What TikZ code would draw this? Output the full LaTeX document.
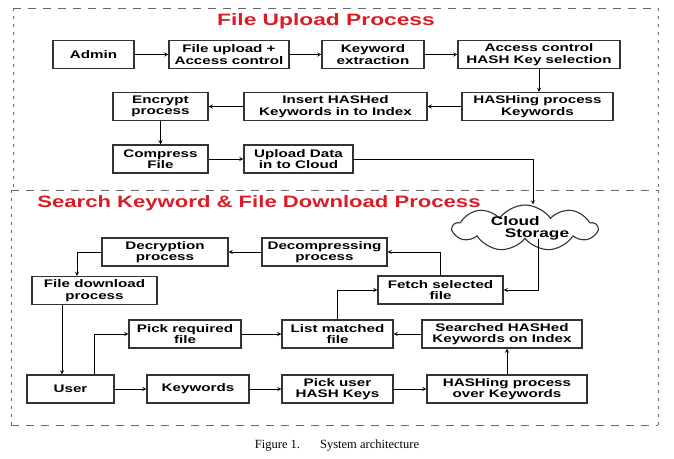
\documentclass[tikz,border=0pt]{standalone}
\usepackage{fontspec}
\setmainfont{Liberation Sans}
\newfontfamily\boxfont[FakeStretch=1.38]{Liberation Sans}
\newfontfamily\capfont{Liberation Serif}
\usetikzlibrary{shapes.symbols}
\definecolor{titlered}{RGB}{218,28,38}
\definecolor{framegray}{RGB}{105,105,105}

\tikzset{
  box/.style={draw=black!80, line width=1.1pt, fill=white, inner sep=1pt,
    minimum width=#1, minimum height=28, align=center,
    font=\boxfont\bfseries\fontsize{11}{11.5}\selectfont},
  heading/.style={text=titlered, font=\boxfont\bfseries\fontsize{16.5}{18}\selectfont},
  hframe/.style={framegray, line width=1pt, dash pattern=on 8pt off 7pt},
  vframe/.style={framegray, line width=1pt, dash pattern=on 3pt off 5pt},
}

\begin{document}
\begin{tikzpicture}[x=1pt,y=-1pt,>=stealth,line width=0.9pt]
\useasboundingbox (0,0) rectangle (674,458);

% Dashed frames
\draw[hframe] (13,8) -- (658,8);
\draw[hframe] (11,190) -- (658,190);
\draw[hframe] (11,425) -- (658,425);
\draw[vframe] (13,8) -- (13,190);
\draw[vframe] (658,8) -- (658,190);
\draw[vframe] (11,190) -- (11,425);
\draw[vframe] (658,190) -- (658,425);

% Headings
\node[heading] (uptitle) at (326,21) {File Upload Process};
\node[heading, xscale=0.97] (dltitle) at (259,203) {Search Keyword \& File Download Process};

% Upload boxes
\node[box=81]  (admin)   at (93.5,54.5)  {Admin};
\node[box=120] (upload)  at (229,54.5)   {File upload +\\Access control};
\node[box=102] (extract) at (373,54.5)   {Keyword\\extraction};
\node[box=162] (access)  at (539,54.5)   {Access control\\HASH Key selection};
\node[box=151] (hashkw)  at (537.5,106.5) {HASHing process\\Keywords};
\node[box=183] (insert)  at (335.5,106.5) {Insert HASHed\\Keywords in to Index};
\node[box=95]  (encrypt) at (160.5,106.5) {Encrypt\\process};
\node[box=95]  (compress) at (160.5,159) {Compress\\File};
\node[box=109] (updata)  at (298.5,159)  {Upload Data\\in to Cloud};

% Cloud
\node[cloud, draw=black!80, line width=1.1pt, fill=white, cloud puffs=9,
  cloud puff arc=110, aspect=3.4, minimum width=144, minimum height=46,
  inner sep=0pt,
  label={[align=left, font=\boxfont\bfseries\fontsize{12.5}{12}\selectfont,
    xshift=5pt]center:Cloud\\\hspace{14pt}Storage}] (cloud) at (525,228) {};

% Download boxes
\node[box=126] (decrypt) at (165,252)    {Decryption\\process};
\node[box=125] (decomp)  at (324.5,252)  {Decompressing\\process};
\node[box=125] (fetch)   at (440.5,290)  {Fetch selected\\file};
\node[box=125] (filedl)  at (94.5,290.5) {File download\\process};
\node[box=112] (pick)    at (185,334)    {Pick required\\file};
\node[box=111] (listm)   at (337.5,334)  {List matched\\file};
\node[box=160] (search)  at (502,334)    {Searched HASHed\\Keywords on Index};
\node[box=87]  (user)    at (70.5,389)   {User};
\node[box=102] (keyw)    at (198,389)    {Keywords};
\node[box=111] (pickuser) at (337.5,389) {Pick user\\HASH Keys};
\node[box=160] (hashover) at (507,389)   {HASHing process\\over Keywords};

% Upload arrows
\draw[->] (admin) -- (upload);
\draw[->] (upload) -- (extract);
\draw[->] (extract) -- (access);
\draw[->] (access.south) -- (access.south |- hashkw.north);
\draw[->] (hashkw) -- (insert);
\draw[->] (insert) -- (encrypt);
\draw[->] (encrypt) -- (compress);
\draw[->] (compress) -- (updata);
\draw[->] (updata.east) -| ([xshift=8pt]cloud.north);

% Download arrows
\draw[->] ([xshift=13pt]cloud.south) |- (fetch.east);
\draw[->] (fetch.north) |- (decomp.east);
\draw[->] (decomp) -- (decrypt);
\draw[->] (decrypt.west) -| ([xshift=-17.5pt]filedl.north);
\draw[->] ([xshift=-32.5pt]filedl.south) -- ([xshift=-32.5pt]filedl.south |- user.north);
\draw[->] ([xshift=23.5pt]user.north) |- (pick.west);
\draw[->] (pick) -- (listm);
\draw[->] (listm.north) |- (fetch.west);
\draw[->] (search) -- (listm);
\draw[->] (hashover.north) -- (hashover.north |- search.south);
\draw[->] (user) -- (keyw);
\draw[->] (keyw) -- (pickuser);
\draw[->] (pickuser) -- (hashover);

% Caption
\node[font=\capfont\fontsize{12.5}{14}\selectfont] (caption) at (337,446)
  {Figure 1.\hspace{20pt}System architecture};
\end{tikzpicture}
\end{document}
